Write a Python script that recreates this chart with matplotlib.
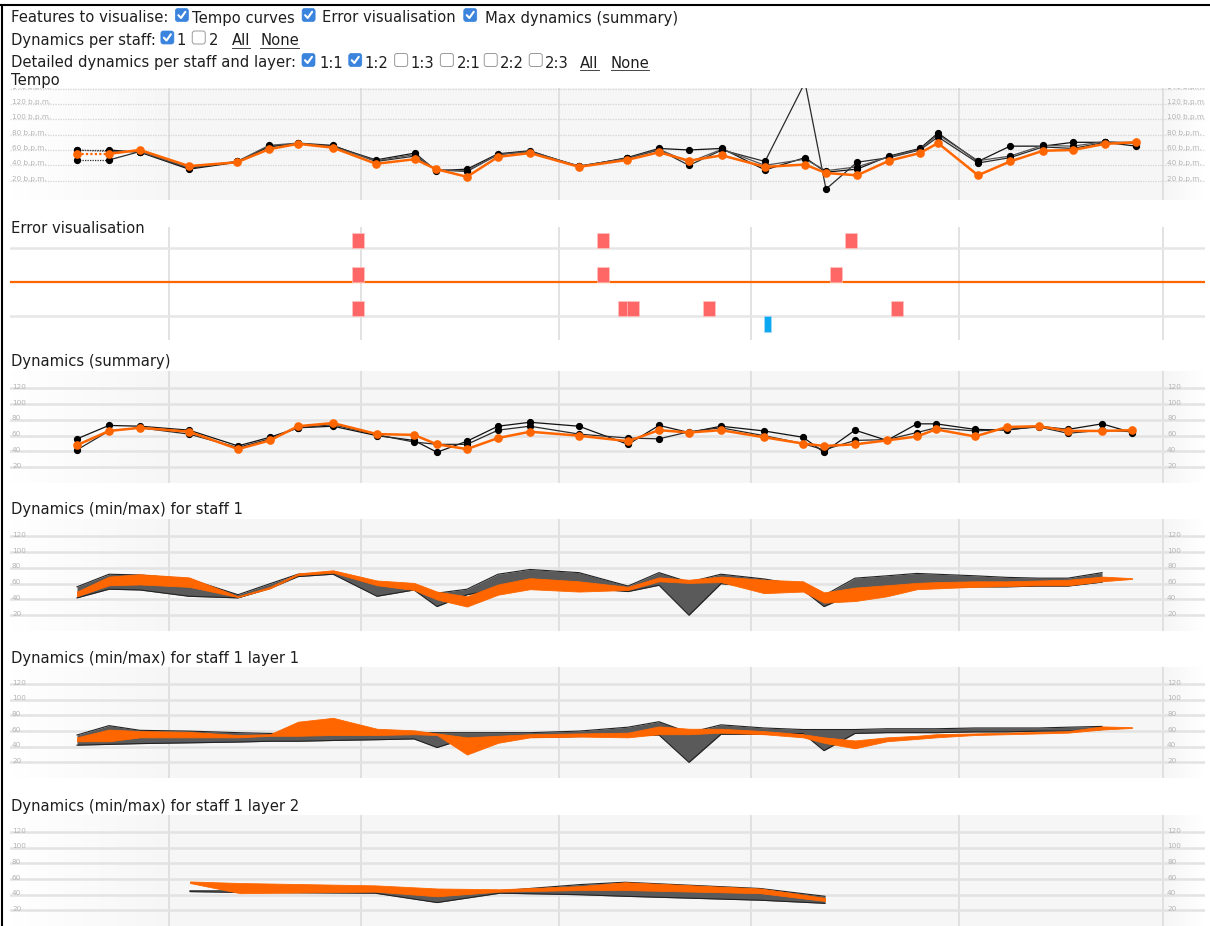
import numpy as np
import matplotlib.pyplot as plt
from matplotlib.patches import FancyBboxPatch

W, H = 1210, 926
T_MAX = 119.5  # seconds visible across each panel

ORANGE = '#ff6600'
ERR_RED = '#ff6666'
ERR_BLUE = '#0aa8f0'
GRID = '#e3e3e3'
VLINE = '#dadada'
LABEL = '#b4b4b4'
TEXT = '#1e1e1e'
CHECK_BLUE = '#3b84de'

# ---------------- data ----------------
measure_t = [15.9, 35.1, 54.9, 74.1, 94.9, 115.3]

tempo_ticks = [20, 40, 60, 80, 100, 120, 140]
tempo_t = [6.7, 9.9, 13.0, 17.9, 22.7, 25.9, 28.8, 32.3, 36.6, 40.5, 42.6, 45.7,
           48.8, 52.0, 56.9, 61.7, 64.9, 67.9, 71.2, 75.5, 79.5, 81.6, 84.7, 87.9,
           91.0, 92.8, 96.8, 100.0, 103.3, 106.3, 109.5, 112.6]
tempo_orange = [55, 55, 60, 39, 44, 61, 68, 63, 42, 48, 35, 25, 51, 56, 38, 47,
                57, 46, 53, 38, 41, 30, 27, 46, 56, 69, 27, 45, 59, 60, 68, 70]
tempo_a = [60, 60, 57, 35, 44, 65, 68, 65, 47, 56, 33, 35, 55, 59, 38, 50,
           62, 60, 62, 34, 50, 31, 35, 52, 62, 82, 45, 65, 65, 70, 70, 65]
tempo_b = [47, 47, 58, 36, 45, 64, 69, 66, 45, 52, 34, 32, 54, 58, 39, 49,
           60, 40, 60, 45, 148, 9, 44, 50, 60, 77, 43, 50, 64, 62, 70, 70]
tempo_c = [60, 58, 58, 37, 45, 66, 69, 64, 46, 54, 34, 33, 54, 58, 39, 49,
           61, 44, 61, 40, 48, 33, 38, 51, 61, 80, 46, 52, 66, 65, 71, 68]

# error lanes: 1 = top, 0 = orange reference, -1 = bottom
err_top = [34.8, 59.3, 84.1]
err_mid = [34.8, 59.3, 82.6]
err_bot = [34.8, 61.4, 62.3, 69.9, 88.7]
err_blue = [75.8]

dyn_ticks = [20, 40, 60, 80, 100, 120]
dyn_t = [6.7, 9.9, 13.0, 17.9, 22.8, 26.0, 28.8, 32.3, 36.7, 40.4, 42.7, 45.7,
         48.8, 52.0, 56.9, 61.8, 64.9, 67.9, 71.1, 75.4, 79.3, 81.4, 84.5, 87.7,
         90.7, 92.6, 96.5, 99.7, 102.9, 105.8, 109.2, 112.2]
sum_orange = [48, 66, 70, 65, 43, 54, 72, 76, 62, 61, 49, 43, 57, 65, 60, 53,
              67, 64, 67, 58, 50, 47, 49, 54, 59, 68, 59, 71, 72, 66, 66, 67]
sum_a = [56, 73, 72, 67, 47, 58, 70, 72, 60, 54, 39, 53, 72, 77, 72, 49,
         73, 64, 72, 66, 58, 39, 67, 54, 75, 75, 68, 67, 72, 68, 75, 64]
sum_b = [42, 66, 70, 62, 45, 56, 70, 74, 61, 52, 49, 49, 67, 72, 62, 57,
         56, 65, 70, 60, 50, 42, 54, 55, 64, 70, 66, 68, 71, 63, 67, 65]

nan = np.nan
s1_orange_lo = [44, 58, 59, 56, 43, 54, 71, 74, 58, 52, 40, 31, 46, 53, 50, 52,
                63, 61, 62, 48, 50, 36, 38, 44, 53, 54, 56, 57, 58, 58, 63, 66]
s1_orange_hi = [50, 69, 72, 68, 44, 56, 73, 77, 64, 61, 50, 44, 59, 67, 63, 56,
                68, 65, 69, 65, 63, 49, 55, 58, 61, 62, 63, 63, 64, 65, 69, 67]
s1_grey_lo = [42, 53, 52, 44, 42, 54, 69, 72, 44, 52, 31, 46, 53, 60, 55, 50,
              58, 20, 60, 55, 52, 31, 48, 52, 55, 55, 56, 56, 57, 57, 62, nan]
s1_grey_hi = [56, 72, 71, 66, 46, 60, 72, 74, 59, 57, 48, 53, 72, 78, 74, 57,
              74, 62, 72, 66, 58, 45, 67, 70, 73, 72, 70, 68, 67, 67, 74, nan]

l1_orange_lo = [47, 47, 52, 52, 52, 54, 54, 55, 55, 56, 55, 30, 45, 52, 53, 52,
                56, 56, 58, 56, 52, 45, 38, 47, 50, 52, 55, 56, 57, 58, 62, 64]
l1_orange_hi = [52, 62, 60, 59, 55, 56, 72, 77, 63, 61, 57, 52, 54, 56, 57, 58,
                66, 63, 63, 60, 56, 52, 48, 52, 54, 56, 57, 58, 59, 60, 66, 65]
l1_grey_lo = [42, 43, 44, 45, 46, 47, 47, 48, 49, 50, 39, 51, 51, 52, 53, 54,
              55, 20, 56, 56, 57, 35, 57, 58, 58, 58, 59, 59, 60, 60, 62, nan]
l1_grey_hi = [55, 67, 61, 60, 58, 57, 57, 58, 58, 58, 58, 58, 58, 58, 60, 65,
              72, 58, 68, 64, 62, 62, 62, 63, 63, 63, 64, 64, 64, 65, 66, nan]

l2_t = [18.0, 23.0, 36.5, 42.7, 49.0, 57.0, 61.5, 75.0, 81.5]
l2_orange_lo = [55, 42, 44, 38, 44, 46, 46, 42, 32]
l2_orange_hi = [57, 55, 52, 48, 47, 51, 56, 48, 36]
l2_grey_lo = [44, 43, 42, 30, 42, 40, 38, 33, 29]
l2_grey_hi = [45, 45, 44, 40, 45, 53, 56, 48, 38]

# ---------------- figure ----------------
fig = plt.figure(figsize=(W / 100, H / 100), dpi=100)
ov = fig.add_axes([0, 0, 1, 1])
ov.set_xlim(0, W)
ov.set_ylim(H, 0)
ov.axis('off')
renderer = fig.canvas.get_renderer()

FS = 10.6


def px_rect(x0, y0, x1, y1):
    return [x0 / W, 1 - y1 / H, (x1 - x0) / W, (y1 - y0) / H]


def checkbox(x, yc, checked, s=13):
    if checked:
        ov.add_patch(FancyBboxPatch((x, yc - s / 2), s, s,
                                    boxstyle='round,pad=0,rounding_size=2.5',
                                    fc=CHECK_BLUE, ec=CHECK_BLUE, lw=0.5))
        ov.plot([x + 3.0, x + 5.6, x + 10.0], [yc + 0.2, yc + 3.0, yc - 3.2],
                color='white', lw=1.5, solid_capstyle='round',
                solid_joinstyle='round')
    else:
        ov.add_patch(FancyBboxPatch((x, yc - s / 2), s, s,
                                    boxstyle='round,pad=0,rounding_size=2.5',
                                    fc='white', ec='#9a9a9a', lw=0.7))
    return x + s


def ui_row(base, items, x=11):
    for kind, val, gap in items:
        x += gap
        if kind == 'c':
            x = checkbox(x, base - 7.5, val)
        else:
            t = ov.text(x, base, val, fontsize=FS, color=TEXT, va='baseline', ha='left')
            w = t.get_window_extent(renderer).width
            if kind == 'u':
                ov.plot([x, x + w], [base + 2.5, base + 2.5], color='#444444', lw=0.7)
            x += w


ui_row(22.5, [('t', 'Features to visualise:', 0), ('c', True, 7), ('t', 'Tempo curves', 4),
              ('c', True, 7), ('t', 'Error visualisation', 7), ('c', True, 8),
              ('t', 'Max dynamics (summary)', 8)])
ui_row(45, [('t', 'Dynamics per staff:', 0), ('c', True, 5), ('t', '1', 3), ('c', False, 6),
            ('t', '2', 4), ('u', 'All', 13), ('u', 'None', 10)])
ui_row(67.5, [('t', 'Detailed dynamics per staff and layer:', 0), ('c', True, 6), ('t', '1:1', 4),
              ('c', True, 6), ('t', '1:2', 3), ('c', False, 6), ('t', '1:3', 3),
              ('c', False, 6), ('t', '2:1', 3), ('c', False, 4), ('t', '2:2', 3),
              ('c', False, 5), ('t', '2:3', 3), ('u', 'All', 11), ('u', 'None', 12)])

for base, title in [(85, 'Tempo'), (233, 'Error visualisation'), (366, 'Dynamics (summary)'),
                    (514, 'Dynamics (min/max) for staff 1'),
                    (663, 'Dynamics (min/max) for staff 1 layer 1'),
                    (811, 'Dynamics (min/max) for staff 1 layer 2')]:
    ov.text(11, base, title, fontsize=FS, color=TEXT, va='baseline', ha='left')

# page frame
ov.plot([0, W], [5, 5], color='black', lw=1.5)
ov.plot([2, 2], [5, H], color='black', lw=1.5)

# panel background: grey with soft fade at both ends
u = np.linspace(0, 1, 800)
shade = np.full_like(u, 0.966)
left = u < 0.13
shade[left] = 1 - (1 - 0.966) * (u[left] / 0.13)
right = u > 0.968
shade[right] = 0.966 + (1 - 0.966) * ((u[right] - 0.968) / 0.032)
grad = np.dstack([shade, shade, shade])


def panel(y0, y1, ylim, bg=True):
    rect = px_rect(10, y0, 1205, y1)
    if bg:
        bgax = fig.add_axes(rect)
        bgax.imshow(grad, aspect='auto', extent=[0, 1, 0, 1], interpolation='bilinear')
        bgax.axis('off')
    ax = fig.add_axes(rect)
    ax.set_xlim(0, T_MAX)
    ax.set_ylim(*ylim)
    ax.axis('off')
    for t in measure_t:
        ax.axvline(t, color=VLINE, lw=1.1, zorder=1)
    return ax


def y_labels(ax, ticks, fmt, dotted, lift):
    tr = ax.get_yaxis_transform()
    for v in ticks:
        if dotted:
            ax.axhline(v, color='#d4d4d4', lw=0.9, ls=(0, (1, 1)), zorder=1)
        else:
            ax.axhline(v, color=GRID, lw=1.8, zorder=1)
        for xa in (2 / 1195, 1157 / 1195):
            ax.text(xa, v + lift, fmt.format(v), transform=tr, fontsize=5.2, color=LABEL,
                    va='center', ha='left', clip_on=True)


def lines(ax, t, series, orange, dotted_first=False):
    styles = [('#111111', 0.9), ('#2b2b2b', 0.9), ('#555555', 0.9)]
    for s, (c, lw) in zip(series, styles):
        if dotted_first:
            ax.plot(t[:2], s[:2], color=c, lw=lw, ls=(0, (1, 1)), zorder=3)
            ax.plot(t[1:], s[1:], color=c, lw=lw, zorder=3)
        else:
            ax.plot(t, s, color=c, lw=lw, zorder=3)
        ax.plot(t, s, ls='none', marker='o', ms=4.2, color='black', zorder=3)
    if dotted_first:
        ax.plot(t[:2], orange[:2], color=ORANGE, lw=1.6, ls=(0, (1, 1)), zorder=4)
        ax.plot(t[1:], orange[1:], color=ORANGE, lw=1.8, zorder=4)
    else:
        ax.plot(t, orange, color=ORANGE, lw=1.8, zorder=4)
    ax.plot(t, orange, ls='none', marker='o', ms=5.2, color=ORANGE, zorder=4)


# Tempo
ax = panel(88, 200, (-5.2, 140.8))
y_labels(ax, tempo_ticks, '{} b.p.m.', dotted=True, lift=2.6)
lines(ax, tempo_t, [tempo_a, tempo_b, tempo_c], tempo_orange, dotted_first=True)

# Error visualisation
ax = panel(227, 340, (-1.706, 1.618), bg=False)
ax.axhline(1, color='#e6e6e6', lw=1.8, zorder=1)
ax.axhline(-1, color='#e6e6e6', lw=1.8, zorder=1)
ax.axhline(0, color=ORANGE, lw=1.6, zorder=2)
for lane, times in [(1, err_top), (0, err_mid), (-1, err_bot)]:
    ax.bar(times, 0.44, width=1.2, bottom=lane, color=ERR_RED,
           edgecolor='#ffc4c4', lw=0.5, zorder=3)
ax.bar(err_blue, -0.47, width=0.7, bottom=-1, color=ERR_BLUE,
       edgecolor='#9fdcff', lw=0.5, zorder=3)

# Dynamics (summary)
DYN_LIM = (0, 142)
ax = panel(371, 483, DYN_LIM)
y_labels(ax, dyn_ticks, '{}', dotted=False, lift=2.0)
lines(ax, dyn_t, [sum_a, sum_b], sum_orange)


def bands(ax, t, g_lo, g_hi, o_lo, o_hi):
    ax.fill_between(t, g_lo, g_hi, color='#5a5a5a', lw=0, zorder=3)
    ax.plot(t, g_lo, color='#222222', lw=0.8, zorder=3)
    ax.plot(t, g_hi, color='#222222', lw=0.8, zorder=3)
    ax.fill_between(t, o_lo, o_hi, color=ORANGE, lw=0.6, edgecolor=ORANGE, zorder=4)


ax = panel(519, 631, DYN_LIM)
y_labels(ax, dyn_ticks, '{}', dotted=False, lift=2.0)
bands(ax, dyn_t, s1_grey_lo, s1_grey_hi, s1_orange_lo, s1_orange_hi)

ax = panel(667, 778, DYN_LIM)
y_labels(ax, dyn_ticks, '{}', dotted=False, lift=2.0)
bands(ax, dyn_t, l1_grey_lo, l1_grey_hi, l1_orange_lo, l1_orange_hi)

ax = panel(815, 926, DYN_LIM)
y_labels(ax, dyn_ticks, '{}', dotted=False, lift=2.0)
bands(ax, l2_t, l2_grey_lo, l2_grey_hi, l2_orange_lo, l2_orange_hi)

fig.savefig('out.png', dpi=100)
